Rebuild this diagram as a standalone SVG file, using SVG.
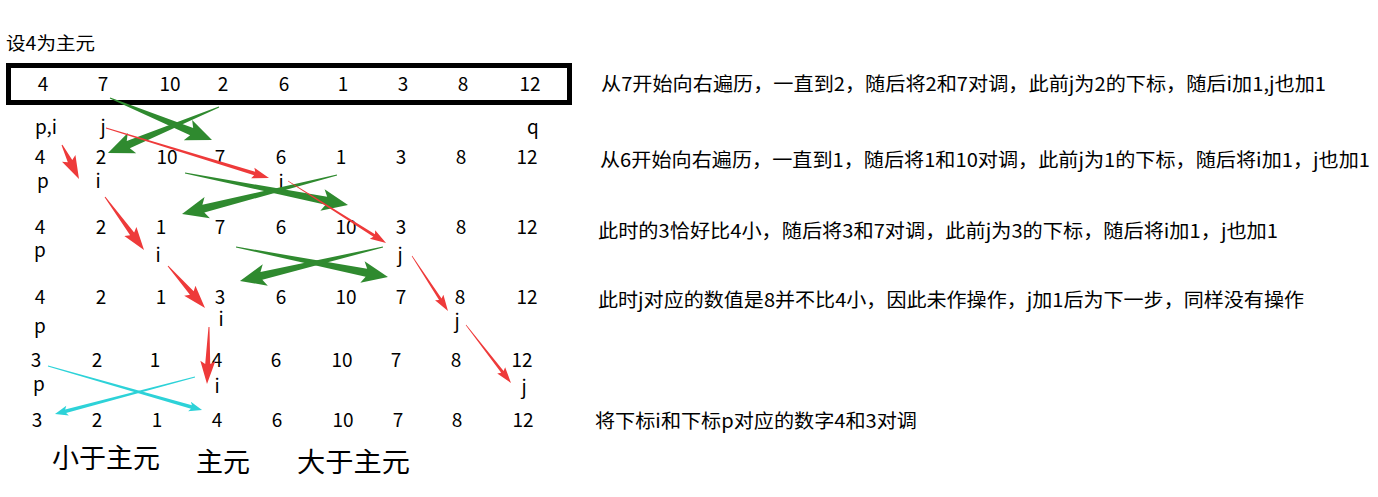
<svg xmlns="http://www.w3.org/2000/svg" width="1378" height="497" viewBox="0 0 1378 497">
<style>
text{font-family:"Noto Sans CJK SC","Liberation Sans",sans-serif;fill:#000}
.n{font-size:19px;text-anchor:middle}
.d{font-size:19px}
.t{font-size:18px}
.big{font-size:27px;font-family:"Noto Sans CJK SC",serif}
.g{fill:#2f8a2f}
.r{fill:#ee3a3a}
.c{fill:#2dd2d8}
</style>
<rect width="1378" height="497" fill="#fff"/>
<g id="title"><text class="t" x="6" y="50" textLength="89" lengthAdjust="spacingAndGlyphs">设4为主元</text></g>
<g id="row1">
<rect x="8.5" y="65.5" width="561" height="37" fill="none" stroke="#000" stroke-width="5"/>
<text class="n" x="43" y="91">4</text><text class="n" x="103" y="91">7</text><text class="n" x="170" y="91">10</text><text class="n" x="223" y="91">2</text><text class="n" x="284" y="91">6</text><text class="n" x="343" y="91">1</text><text class="n" x="403" y="91">3</text><text class="n" x="463" y="91">8</text><text class="n" x="530" y="91">12</text>
<text class="n" x="46" y="134">p,i</text><text class="n" x="103" y="134">j</text><text class="n" x="533" y="134">q</text>
</g>
<g id="row2">
<text class="n" x="40" y="164">4</text><text class="n" x="101" y="164">2</text><text class="n" x="167" y="164">10</text><text class="n" x="220" y="164">7</text><text class="n" x="281" y="164">6</text><text class="n" x="341" y="164">1</text><text class="n" x="401" y="164">3</text><text class="n" x="461" y="164">8</text><text class="n" x="527" y="164">12</text>
<text class="n" x="43" y="188">p</text><text class="n" x="98" y="188">i</text><text class="n" x="281" y="189">j</text>
</g>
<g id="row3">
<text class="n" x="40" y="234">4</text><text class="n" x="101" y="234">2</text><text class="n" x="161" y="234">1</text><text class="n" x="220" y="234">7</text><text class="n" x="281" y="234">6</text><text class="n" x="346" y="234">10</text><text class="n" x="401" y="234">3</text><text class="n" x="461" y="234">8</text><text class="n" x="527" y="234">12</text>
<text class="n" x="40" y="257">p</text><text class="n" x="158" y="262">i</text><text class="n" x="400" y="262">j</text>
</g>
<g id="row4">
<text class="n" x="40" y="304">4</text><text class="n" x="101" y="304">2</text><text class="n" x="161" y="304">1</text><text class="n" x="220" y="304">3</text><text class="n" x="281" y="304">6</text><text class="n" x="346" y="304">10</text><text class="n" x="401" y="304">7</text><text class="n" x="460" y="304">8</text><text class="n" x="527" y="304">12</text>
<text class="n" x="221" y="326">i</text><text class="n" x="40" y="333">p</text><text class="n" x="457" y="328">j</text>
</g>
<g id="row5">
<text class="n" x="36" y="367">3</text><text class="n" x="97" y="367">2</text><text class="n" x="155" y="367">1</text><text class="n" x="217" y="367">4</text><text class="n" x="276" y="367">6</text><text class="n" x="342" y="367">10</text><text class="n" x="396" y="367">7</text><text class="n" x="456" y="367">8</text><text class="n" x="522" y="367">12</text>
<text class="n" x="39" y="391">p</text><text class="n" x="217" y="393">i</text><text class="n" x="524" y="394">j</text>
</g>
<g id="row6">
<text class="n" x="37" y="427">3</text><text class="n" x="97" y="427">2</text><text class="n" x="157" y="427">1</text><text class="n" x="217" y="427">4</text><text class="n" x="277" y="427">6</text><text class="n" x="343" y="427">10</text><text class="n" x="398" y="427">7</text><text class="n" x="457" y="427">8</text><text class="n" x="523" y="427">12</text>
</g>
<g id="labels">
<text class="big" x="52" y="468" textLength="108" lengthAdjust="spacingAndGlyphs">小于主元</text>
<text class="big" x="196" y="472" textLength="54" lengthAdjust="spacingAndGlyphs">主元</text>
<text class="big" x="297" y="472" textLength="113" lengthAdjust="spacingAndGlyphs">大于主元</text>
</g>
<g id="notes">
<text class="d" x="601" y="91" textLength="725" lengthAdjust="spacingAndGlyphs">从7开始向右遍历，一直到2，随后将2和7对调，此前j为2的下标，随后i加1,j也加1</text>
<text class="d" x="600" y="167" textLength="770" lengthAdjust="spacingAndGlyphs">从6开始向右遍历，一直到1，随后将1和10对调，此前j为1的下标，随后将i加1，j也加1</text>
<text class="d" x="598" y="238" textLength="680" lengthAdjust="spacingAndGlyphs">此时的3恰好比4小，随后将3和7对调，此前j为3的下标，随后将i加1，j也加1</text>
<text class="d" x="598" y="307" textLength="706" lengthAdjust="spacingAndGlyphs">此时j对应的数值是8并不比4小，因此未作操作，j加1后为下一步，同样没有操作</text>
<text class="d" x="595" y="428" textLength="322" lengthAdjust="spacingAndGlyphs">将下标i和下标p对应的数字4和3对调</text>
</g>
<g id="connectors">
<path class="g" transform="translate(110,98) rotate(22.38)" d="M0,-0.5 L88.3,-4 L84.3,-11 L110.3,0 L84.3,11 L88.3,4 L0,0.5Z"/>
<path class="g" transform="translate(219,107) rotate(157.49)" d="M0,-0.5 L98.2,-4 L94.2,-11 L120.2,0 L94.2,11 L98.2,4 L0,0.5Z"/>
<path class="g" transform="translate(185,173) rotate(11.11)" d="M0,-0.5 L144.1,-4 L140.1,-11 L166.1,0 L140.1,11 L144.1,4 L0,0.5Z"/>
<path class="g" transform="translate(337,175) rotate(165.88)" d="M0,-0.5 L137.8,-4 L133.8,-11 L159.8,0 L133.8,11 L137.8,4 L0,0.5Z"/>
<path class="g" transform="translate(236,247) rotate(11.16)" d="M0,-0.5 L132.9,-4 L128.9,-11 L154.9,0 L128.9,11 L132.9,4 L0,0.5Z"/>
<path class="g" transform="translate(383,247) rotate(166.63)" d="M0,-0.5 L125,-4 L121,-11 L147,0 L121,11 L125,4 L0,0.5Z"/>
<path class="r" transform="translate(62,145) rotate(63.43)" d="M0,-0.5 L18,-2.5 L15,-7.5 L38,0 L15,7.5 L18,2.5 L0,0.5Z"/>
<path class="r" transform="translate(105,197) rotate(53.65)" d="M0,-0.5 L45.8,-2.5 L42.8,-7.5 L65.8,0 L42.8,7.5 L45.8,2.5 L0,0.5Z"/>
<path class="r" transform="translate(168,266) rotate(48.62)" d="M0,-0.5 L36,-2.5 L33,-7.5 L56,0 L33,7.5 L36,2.5 L0,0.5Z"/>
<path class="r" transform="translate(209,327) rotate(92.01)" d="M0,-0.5 L37,-2.5 L34,-7.5 L57,0 L34,7.5 L37,2.5 L0,0.5Z"/>
<path class="r" transform="translate(106,128) rotate(17.05)" d="M0,-0.4 L155.5,-1.8 L153.5,-5.5 L170.5,0 L153.5,5.5 L155.5,1.8 L0,0.4Z"/>
<path class="r" transform="translate(288,181) rotate(32.32)" d="M0,-0.3 L102,-1.5 L100,-5 L116,0 L100,5 L102,1.5 L0,0.3Z"/>
<path class="r" transform="translate(412,256) rotate(56.8)" d="M0,-0.3 L51.7,-1.5 L49.7,-5 L65.7,0 L49.7,5 L51.7,1.5 L0,0.3Z"/>
<path class="r" transform="translate(466,325) rotate(52.19)" d="M0,-0.3 L59.4,-1.5 L57.4,-5 L73.4,0 L57.4,5 L59.4,1.5 L0,0.3Z"/>
<path class="c" transform="translate(48,366) rotate(15.95)" d="M0,-0.5 L149.2,-1.8 L147.2,-5 L160.2,0 L147.2,5 L149.2,1.8 L0,0.5Z"/>
<path class="c" transform="translate(195,377) rotate(165.2)" d="M0,-0.5 L133.8,-1.8 L131.8,-5 L144.8,0 L131.8,5 L133.8,1.8 L0,0.5Z"/>
</g>
</svg>
